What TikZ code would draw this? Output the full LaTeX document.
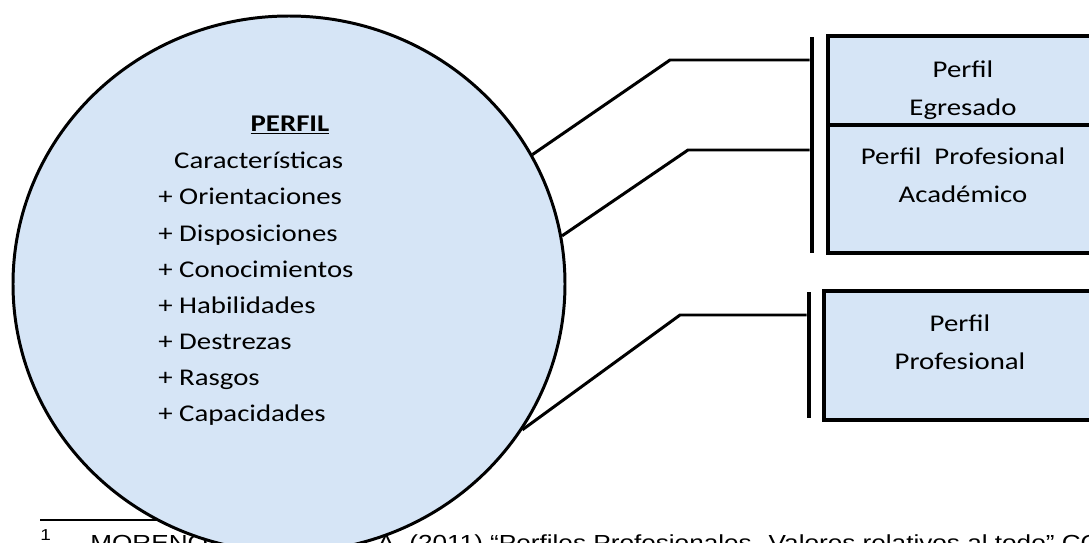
\documentclass[tikz,border=0pt]{standalone}
\usepackage{fontspec}
\setmainfont{Carlito}[FakeStretch=1.2]
\newfontfamily\notefont{Liberation Sans}[FakeStretch=1.2]
\usetikzlibrary{shapes.geometric}
\definecolor{paleblue}{RGB}{214,229,246}
\tikzset{
  perfilbox/.style={draw=black, line width=2.3pt, fill=paleblue, rectangle, inner sep=0pt},
  boxtext/.style={align=center, inner sep=0pt, font=\fontsize{13.66}{21.6}\selectfont},
  bar/.style={fill=black, inner sep=0pt, minimum width=0.08cm},
  link/.style={black, line width=1.7pt}
}

\begin{document}
\begin{tikzpicture}
  \useasboundingbox (0,0) rectangle (21.78,10.84);
  \clip (0,0) rectangle (21.78,10.84);

  \draw[black, line width=0.85pt] (0.8,0.44) -- (5.0,0.44);
  \node[font=\notefont\fontsize{9}{9}\selectfont, anchor=north west, inner sep=0pt] (fnmark) at (0.80,0.26) {1};
  \node[font=\notefont\fontsize{12.4}{14}\selectfont, anchor=base west, inner sep=0pt] (fnname) at (1.80,-0.16) {MORENO};
  \node[font=\notefont\fontsize{12.4}{14}\selectfont, anchor=base west, inner sep=0pt] (fnref) at (7.54,-0.16) {A. (2011) “Perfiles Profesionales. Valores relativos al todo” CO};

  \node[ellipse, draw=black, line width=1.7pt, fill=paleblue, minimum width=11.04cm, minimum height=10.72cm, inner sep=0pt] (perfil) at (5.78,5.16) {};
  \node[font=\fontsize{13.66}{20.5}\selectfont, anchor=base, inner sep=0pt] (titulo) at (5.80,8.22) {\underline{\textbf{PERFIL}}};
  \node[font=\fontsize{13.66}{20.5}\selectfont, align=left, anchor=north west, inner sep=0pt] (rasgos) at (3.16,7.80)
    {\hspace*{0.66em}Características\\+ Orientaciones\\+ Disposiciones\\+ Conocimientos\\+ Habilidades\\+ Destrezas\\+ Rasgos\\+ Capacidades};

  \node[perfilbox, minimum width=5.4cm, minimum height=1.78cm] (egresado) at (19.26,9.23) {};
  \node[perfilbox, minimum width=5.4cm, minimum height=2.56cm] (academico) at (19.26,7.06) {};
  \node[perfilbox, minimum width=5.48cm, minimum height=2.58cm] (profesional) at (19.22,3.73) {};
  \node[boxtext] (egrtext) at (19.26,9.04) {Perfil\\Egresado};
  \node[boxtext] (acatext) at (19.26,7.33) {Perfil\ \ Profesional\\Académico};
  \node[boxtext] (protext) at (19.20,3.99) {Perfil\\Profesional};

  \node[bar, minimum height=4.32cm] (egrbar) at (16.24,7.94) {};
  \node[bar, minimum height=2.52cm] (profbar) at (16.18,3.74) {};

  \coordinate (k1) at (13.40,9.64);
  \coordinate (k2) at (13.76,7.84);
  \coordinate (k3) at (13.60,4.54);
  \draw[link] (perfil.28) -- (k1) -- (k1 -| egrbar.west);
  \draw[link] (perfil.10) -- (k2) -- (k2 -| egrbar.west);
  \draw[link] (perfil.-32) -- (k3) -- (k3 -| profbar.west);
\end{tikzpicture}
\end{document}
